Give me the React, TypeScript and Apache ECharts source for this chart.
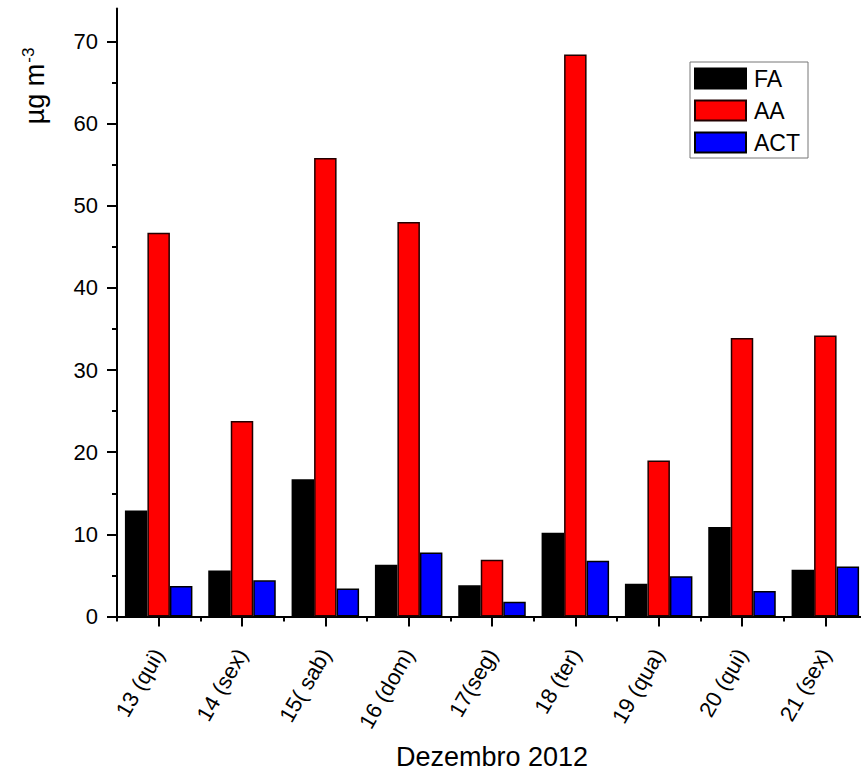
import React, { useEffect, useRef } from 'react';
import * as echarts from 'echarts';

const categories = ['13 (qui)', '14 (sex)', '15( sab)', '16 (dom)', '17(seg)', '18 (ter)', '19 (qua)', '20 (qui)', '21 (sex)'];
const faValues = [12.9, 5.6, 16.7, 6.3, 3.8, 10.2, 4.0, 10.9, 5.7];
const aaValues = [46.7, 23.8, 55.8, 48.0, 6.9, 68.4, 19.0, 33.9, 34.2];
const actValues = [3.7, 4.4, 3.4, 7.8, 1.8, 6.8, 4.9, 3.1, 6.1];
const yMajorTicks = [0, 10, 20, 30, 40, 50, 60, 70];
const yMinorTicks = [5, 15, 25, 35, 45, 55, 65];
const yMax = 74;

const FONT = "'Liberation Sans', Arial, sans-serif";

export default function App() {
  const ref = useRef<HTMLDivElement>(null);
  useEffect(() => {
    if (!ref.current) return;
    document.body.style.margin = '0';
    document.body.style.overflow = 'hidden';
    const chart = echarts.init(ref.current, undefined, { renderer: 'svg' });
    const barBase = { type: 'bar' as const, barWidth: 22.5, barGap: '0%', xAxisIndex: 0, yAxisIndex: 0 };
    chart.setOption({
      animation: false,
      backgroundColor: '#ffffff',
      textStyle: { fontFamily: FONT },
      grid: { left: 117, right: -6, top: 8.5, bottom: 155.5, containLabel: false, outerBoundsMode: 'none' },
      legend: {
        orient: 'vertical',
        left: 690,
        top: 62,
        icon: 'rect',
        itemWidth: 51,
        itemHeight: 20,
        itemGap: 9,
        padding: [5, 8, 4, 4],
        borderColor: '#777',
        borderWidth: 1,
        backgroundColor: '#fff',
        borderRadius: 0,
        textStyle: { fontFamily: FONT, fontSize: 23, color: '#000', padding: [0, 0, 0, 3] },
        data: ['FA', 'AA', 'ACT'],
      },
      xAxis: [
        {
          type: 'category',
          data: categories,
          position: 'bottom',
          axisLine: { show: true, lineStyle: { color: '#000', width: 2 } },
          axisTick: { show: true, alignWithLabel: false, length: 5, lineStyle: { color: '#000', width: 2 } },
          axisLabel: { show: false },
          splitLine: { show: false },
          name: 'Dezembro 2012',
          nameLocation: 'middle',
          nameGap: 127,
          nameTextStyle: { fontFamily: FONT, fontSize: 27, color: '#000' },
        },
        {
          type: 'category',
          data: categories,
          position: 'bottom',
          axisLine: { show: false },
          axisTick: { show: true, alignWithLabel: true, length: 10, lineStyle: { color: '#000', width: 2 } },
          axisLabel: { show: true, rotate: 60, margin: 34, fontFamily: FONT, fontSize: 22, color: '#000' },
          splitLine: { show: false },
        },
      ],
      yAxis: [
        {
          type: 'value',
          min: 0,
          max: yMax,
          axisLine: { show: true, lineStyle: { color: '#000', width: 2 } },
          axisTick: { show: true, length: 10, customValues: yMajorTicks, lineStyle: { color: '#000', width: 2 } },
          axisLabel: { show: true, customValues: yMajorTicks, margin: 19, fontFamily: FONT, fontSize: 22, color: '#000' },
          splitLine: { show: false },
        },
        {
          type: 'value',
          min: 0,
          max: yMax,
          position: 'left',
          axisLine: { show: false },
          axisTick: { show: true, length: 5, customValues: yMinorTicks, lineStyle: { color: '#000', width: 2 } },
          axisLabel: { show: false },
          splitLine: { show: false },
        },
      ],
      graphic: [
        {
          type: 'text',
          x: 35,
          y: 86,
          rotation: Math.PI / 2,
          style: {
            text: 'µg m{sup|-3}',
            fontFamily: FONT,
            fontSize: 27,
            fill: '#000',
            align: 'center',
            verticalAlign: 'middle',
            rich: {
              sup: { fontFamily: FONT, fontSize: 17, fill: '#000', padding: [0, 0, 14, 1] },
            },
          },
        },
      ],
      series: [
        { ...barBase, name: 'FA', data: faValues, itemStyle: { color: '#000000', borderColor: '#000', borderWidth: 1.5 } },
        { ...barBase, name: 'AA', data: aaValues, itemStyle: { color: '#ff0000', borderColor: '#200', borderWidth: 1.5 } },
        { ...barBase, name: 'ACT', data: actValues, itemStyle: { color: '#0000ff', borderColor: '#000', borderWidth: 1.5 } },
      ],
    });
    return () => chart.dispose();
  }, []);
  return (
    <div style={{ position: 'fixed', left: 0, top: 0, width: 861, height: 772, overflow: 'hidden', background: '#fff' }}>
      <div ref={ref} style={{ width: 861, height: 772 }} />
    </div>
  );
}
